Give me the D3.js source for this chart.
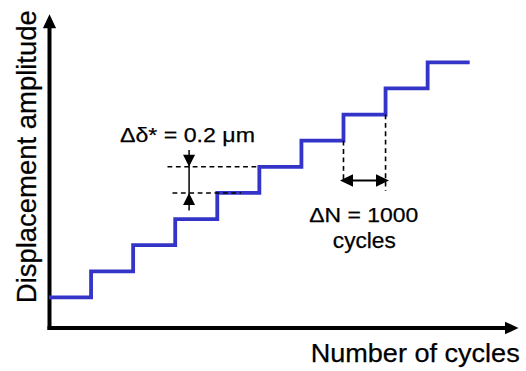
<!DOCTYPE html>
<html>
<head>
<meta charset="utf-8">
<script src="https://cdn.jsdelivr.net/npm/d3@7"></script>
<style>
  html, body { margin: 0; padding: 0; background: #fff; }
  svg { display: block; }
  text { font-family: "Liberation Sans", Arial, sans-serif; fill: #000; stroke: #000; stroke-width: 0.25px; }
</style>
</head>
<body>
<div id="chart"></div>
<script>
// ---- data ----
const stepStartCycles = [0, 1000, 2000, 3000, 4000, 5000, 6000, 7000, 8000, 9000];
const stepEndCycles   = [1000, 2000, 3000, 4000, 5000, 6000, 7000, 8000, 9000, 10000];
const amplitudeUm     = [0.2, 0.4, 0.6, 0.8, 1.0, 1.2, 1.4, 1.6, 1.8, 2.0];
const xLabel = "Number of cycles";
const yLabel = "Displacement amplitude";
const deltaDeltaLabel = "\u0394\u03B4* = 0.2 \u03BCm";
const deltaNLabel = ["\u0394N = 1000", "cycles"];

const W = 526, H = 371;
const svg = d3.select("#chart").append("svg").attr("width", W).attr("height", H);

const x = d3.scaleLinear().domain([0, 10000]).range([49, 469.7]);
const y = d3.scaleLinear().domain([0, 2]).range([323.6, 62.3]);

const blue = "#3434c8";

function arrowHead(tx, ty, dir, len, half) {
  let pts;
  if (dir === "up") pts = [[tx, ty], [tx - half, ty + len], [tx + half, ty + len]];
  if (dir === "down") pts = [[tx, ty], [tx - half, ty - len], [tx + half, ty - len]];
  if (dir === "left") pts = [[tx, ty], [tx + len, ty - half], [tx + len, ty + half]];
  if (dir === "right") pts = [[tx, ty], [tx - len, ty - half], [tx - len, ty + half]];
  svg.append("path").attr("d", "M" + pts.map(p => p.join(",")).join("L") + "Z").attr("fill", "#000");
}

// ---- axes ----
const axX = 49.5, axY = 328;
svg.append("line").attr("x1", axX).attr("x2", axX).attr("y1", 330).attr("y2", 27)
  .attr("stroke", "#000").attr("stroke-width", 4);
arrowHead(axX, 14.3, "up", 14, 6.6);
svg.append("line").attr("x1", 47.5).attr("x2", 506).attr("y1", axY).attr("y2", axY)
  .attr("stroke", "#000").attr("stroke-width", 4);
arrowHead(518.5, axY, "right", 13.5, 6.3);

// ---- step line ----
const pts = [];
stepStartCycles.forEach((s, i) => {
  pts.push([x(s), y(amplitudeUm[i])]);
  pts.push([x(stepEndCycles[i]), y(amplitudeUm[i])]);
});
svg.append("path")
  .attr("d", d3.line()(pts))
  .attr("fill", "none").attr("stroke", blue).attr("stroke-width", 3.8)
  .attr("stroke-linejoin", "miter").attr("stroke-linecap", "butt");

// ---- delta-delta annotation ----
const dash = "4.8,3.6";
const ddX = x(3330);
svg.append("line").attr("x1", 167.5).attr("x2", x(5000)).attr("y1", y(1.2)).attr("y2", y(1.2))
  .attr("stroke", "#000").attr("stroke-width", 1.6).attr("stroke-dasharray", dash);
svg.append("line").attr("x1", 172.5).attr("x2", 241).attr("y1", y(1.0)).attr("y2", y(1.0))
  .attr("stroke", "#000").attr("stroke-width", 1.6).attr("stroke-dasharray", dash);
svg.append("line").attr("x1", ddX).attr("x2", ddX).attr("y1", 150).attr("y2", 210.5)
  .attr("stroke", "#000").attr("stroke-width", 1.5);
arrowHead(ddX, y(1.2), "down", 12, 6);
arrowHead(ddX, y(1.0), "up", 12, 6);
svg.append("text").attr("x", 187.5).attr("y", 142.3).attr("text-anchor", "middle")
  .attr("font-size", 21).attr("textLength", 135).attr("lengthAdjust", "spacingAndGlyphs")
  .text(deltaDeltaLabel);

// ---- delta-N annotation ----
svg.append("line").attr("x1", x(7000)).attr("x2", x(7000)).attr("y1", y(1.4)).attr("y2", 182)
  .attr("stroke", "#000").attr("stroke-width", 1.6).attr("stroke-dasharray", dash);
svg.append("line").attr("x1", x(8000)).attr("x2", x(8000)).attr("y1", y(1.6)).attr("y2", 191)
  .attr("stroke", "#000").attr("stroke-width", 1.6).attr("stroke-dasharray", dash);
const dnY = 180.5;
svg.append("line").attr("x1", 345).attr("x2", 384).attr("y1", dnY).attr("y2", dnY)
  .attr("stroke", "#000").attr("stroke-width", 2.2);
arrowHead(340, dnY, "left", 13, 6.3);
arrowHead(389, dnY, "right", 13, 6.3);
svg.append("text").attr("x", 363.7).attr("y", 221.7).attr("text-anchor", "middle")
  .attr("font-size", 21).attr("textLength", 109).attr("lengthAdjust", "spacingAndGlyphs")
  .text(deltaNLabel[0]);
svg.append("text").attr("x", 364.3).attr("y", 247.5).attr("text-anchor", "middle")
  .attr("font-size", 21.5).attr("textLength", 63).attr("lengthAdjust", "spacingAndGlyphs")
  .text(deltaNLabel[1]);

// ---- axis labels ----
svg.append("text").attr("x", 310.7).attr("y", 361.7)
  .attr("font-size", 26).attr("textLength", 209).attr("lengthAdjust", "spacingAndGlyphs")
  .text(xLabel);
svg.append("text").attr("transform", "translate(35.5,156.7) rotate(-90)")
  .attr("text-anchor", "middle")
  .attr("font-size", 28.5).attr("textLength", 293).attr("lengthAdjust", "spacingAndGlyphs")
  .text(yLabel);
</script>
</body>
</html>
